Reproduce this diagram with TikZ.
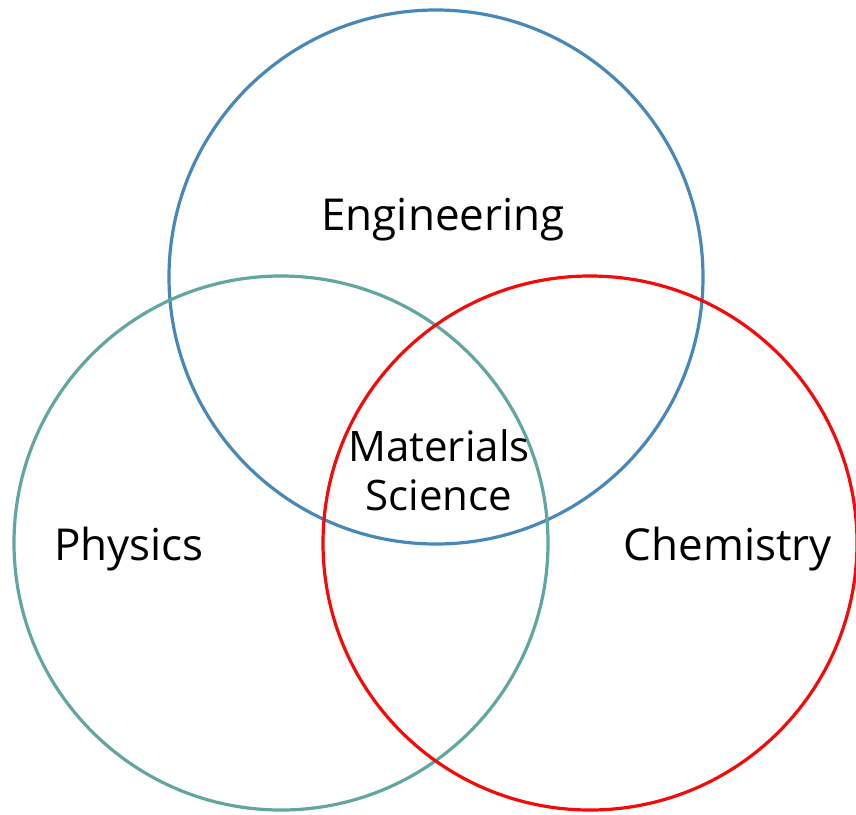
\documentclass[tikz,border=0pt]{standalone}
\usepackage{fontspec}
\setmainfont{Open Sans}
\definecolor{engblue}{RGB}{72,136,184}
\definecolor{phyteal}{RGB}{98,166,160}
\definecolor{chemred}{RGB}{245,10,10}
\tikzset{
  ring/.style={line width=3.2pt},
  lbl/.style={font=\fontsize{44}{50}\selectfont, text=black, inner sep=0pt},
}
\begin{document}
\begin{tikzpicture}[x=1pt,y=-1pt]
\useasboundingbox (0,0) rectangle (856,814);
\draw[ring, engblue] (436,277) circle[radius=267];
\draw[ring, phyteal] (281,543) circle[radius=267];
\draw[ring, chemred] (590,543) circle[radius=267];
\node[lbl] (eng) at (443,220) {Engineering};
\node[lbl] (phy) at (129,549) {Physics};
\node[lbl] (chem) at (728,549) {Chemistry};
\node[lbl, align=center, font=\fontsize{42}{49}\selectfont] (mat) at (439,470) {Materials\\Science};
\end{tikzpicture}
\end{document}
